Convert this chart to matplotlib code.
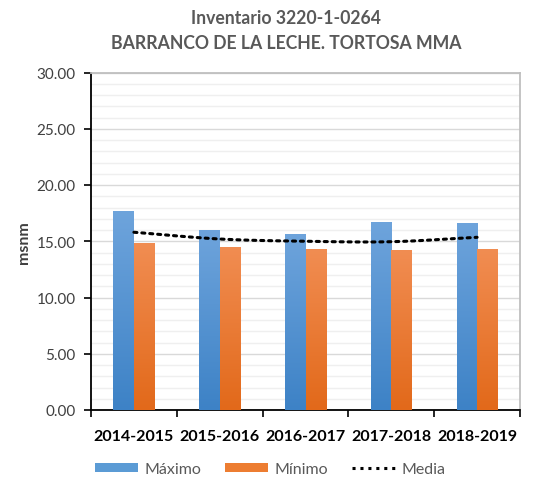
import numpy as np
import matplotlib
matplotlib.use("Agg")
import matplotlib.pyplot as plt
from matplotlib.patches import Rectangle
from matplotlib.lines import Line2D
from matplotlib.colors import LinearSegmentedColormap

categories = ["2014-2015", "2015-2016", "2016-2017", "2017-2018", "2018-2019"]
maximo = [17.66, 16.00, 15.64, 16.71, 16.60]
minimo = [14.84, 14.52, 14.31, 14.22, 14.31]
media = [15.80, 15.20, 15.00, 14.96, 15.35]
yticks = [0, 5, 10, 15, 20, 25, 30]

plt.rcParams['font.family'] = ['Lato', 'DejaVu Sans']

fig = plt.figure(figsize=(5.33, 4.81), dpi=100)
ax = fig.add_axes([91/533, 1 - 411/481, (520-91)/533, (411-73.5)/481])

x = np.arange(len(categories))
bw = 0.24
blue_cmap = LinearSegmentedColormap.from_list("b", ["#3d82c6", "#6ea4dc"])
orange_cmap = LinearSegmentedColormap.from_list("o", ["#e2691a", "#f18d52"])
grad = np.linspace(0, 1, 256).reshape(-1, 1)

def gbar(xc, h, cmap):
    r = Rectangle((xc - bw/2, 0), bw, h, facecolor='none', edgecolor='none', zorder=3)
    ax.add_patch(r)
    im = ax.imshow(grad, extent=(xc - bw/2, xc + bw/2, 0, h), origin='lower',
                   cmap=cmap, aspect='auto', zorder=3, interpolation='bilinear')
    im.set_clip_path(r)

for i in range(len(categories)):
    gbar(x[i] - bw/2, maximo[i], blue_cmap)
    gbar(x[i] + bw/2, minimo[i], orange_cmap)

# smooth line through media points (Catmull-Rom rendering)
def catmull(xs, ys, n=30):
    xs = np.asarray(xs, float); ys = np.asarray(ys, float)
    px = np.concatenate([[2*xs[0]-xs[1]], xs, [2*xs[-1]-xs[-2]]])
    py = np.concatenate([[2*ys[0]-ys[1]], ys, [2*ys[-1]-ys[-2]]])
    ox, oy = [], []
    for i in range(1, len(px)-2):
        t = np.linspace(0, 1, n)
        for arr, out in ((px, ox), (py, oy)):
            p0, p1, p2, p3 = arr[i-1], arr[i], arr[i+1], arr[i+2]
            out.extend(0.5*((2*p1) + (-p0+p2)*t + (2*p0-5*p1+4*p2-p3)*t**2 + (-p0+3*p1-3*p2+p3)*t**3))
    return ox, oy

sx, sy = catmull(x, media)
ax.plot(sx, sy, color='black', linestyle=(0, (1, 1.6)), linewidth=2.2, zorder=4,
        dash_capstyle='round')

ax.set_xlim(-0.5, len(categories) - 0.5)
ax.set_ylim(0, 30)
ax.set_yticks(yticks)
ax.set_yticklabels([f"{v:.2f}" for v in yticks], fontsize=11, color='#404040')
ax.set_yticks(np.arange(0, 31, 1), minor=True)
ax.grid(axis='y', which='major', color='#d9d9d9', linewidth=1.0, zorder=0)
ax.grid(axis='y', which='minor', color='#efefef', linewidth=1.0, zorder=0)
ax.set_axisbelow(True)
ax.tick_params(axis='y', which='minor', length=0)
ax.tick_params(axis='y', which='major', length=5, width=1.2, direction='out', pad=6)

ax.set_xticks(np.arange(-0.5, len(categories), 1.0))
ax.set_xticklabels([])
ax.set_xticks(x, minor=True)
ax.set_xticklabels(categories, minor=True, fontsize=11.5, fontweight='bold', color='black')
ax.tick_params(axis='x', which='major', length=5, width=1.2, direction='out')
ax.tick_params(axis='x', which='minor', length=0, pad=14)

for s in ['left', 'bottom']:
    ax.spines[s].set_color('black'); ax.spines[s].set_linewidth(1.3)
for s in ['top', 'right']:
    ax.spines[s].set_color('#bfbfbf'); ax.spines[s].set_linewidth(1.3)

ax.set_ylabel("msnm", fontsize=11.5, fontweight='bold', color='#404040', labelpad=0)
ax.yaxis.set_label_coords(-0.14, 0.5)

fig.text(286/533, 1 - 31/481, "Inventario 3220-1-0264\nBARRANCO DE LA LECHE. TORTOSA MMA",
         ha='center', va='center', fontsize=12.7, fontweight='bold', color='#595959',
         linespacing=1.55)

handles = [Rectangle((0, 0), 1, 1, facecolor='#5b9bd5'),
           Rectangle((0, 0), 1, 1, facecolor='#ed7d31'),
           Line2D([], [], color='black', linestyle=(0, (1, 1.6)), linewidth=2.2)]
leg = fig.legend(handles, ["Máximo", "Mínimo", "Media"], loc='center',
                 bbox_to_anchor=(270/533, 1 - 470/481), ncol=3, frameon=False,
                 fontsize=11.5, handlelength=2.7, handleheight=0.45, columnspacing=1.5,
                 handletextpad=0.4, labelcolor='#595959')

fig.savefig("out.png", dpi=100)
